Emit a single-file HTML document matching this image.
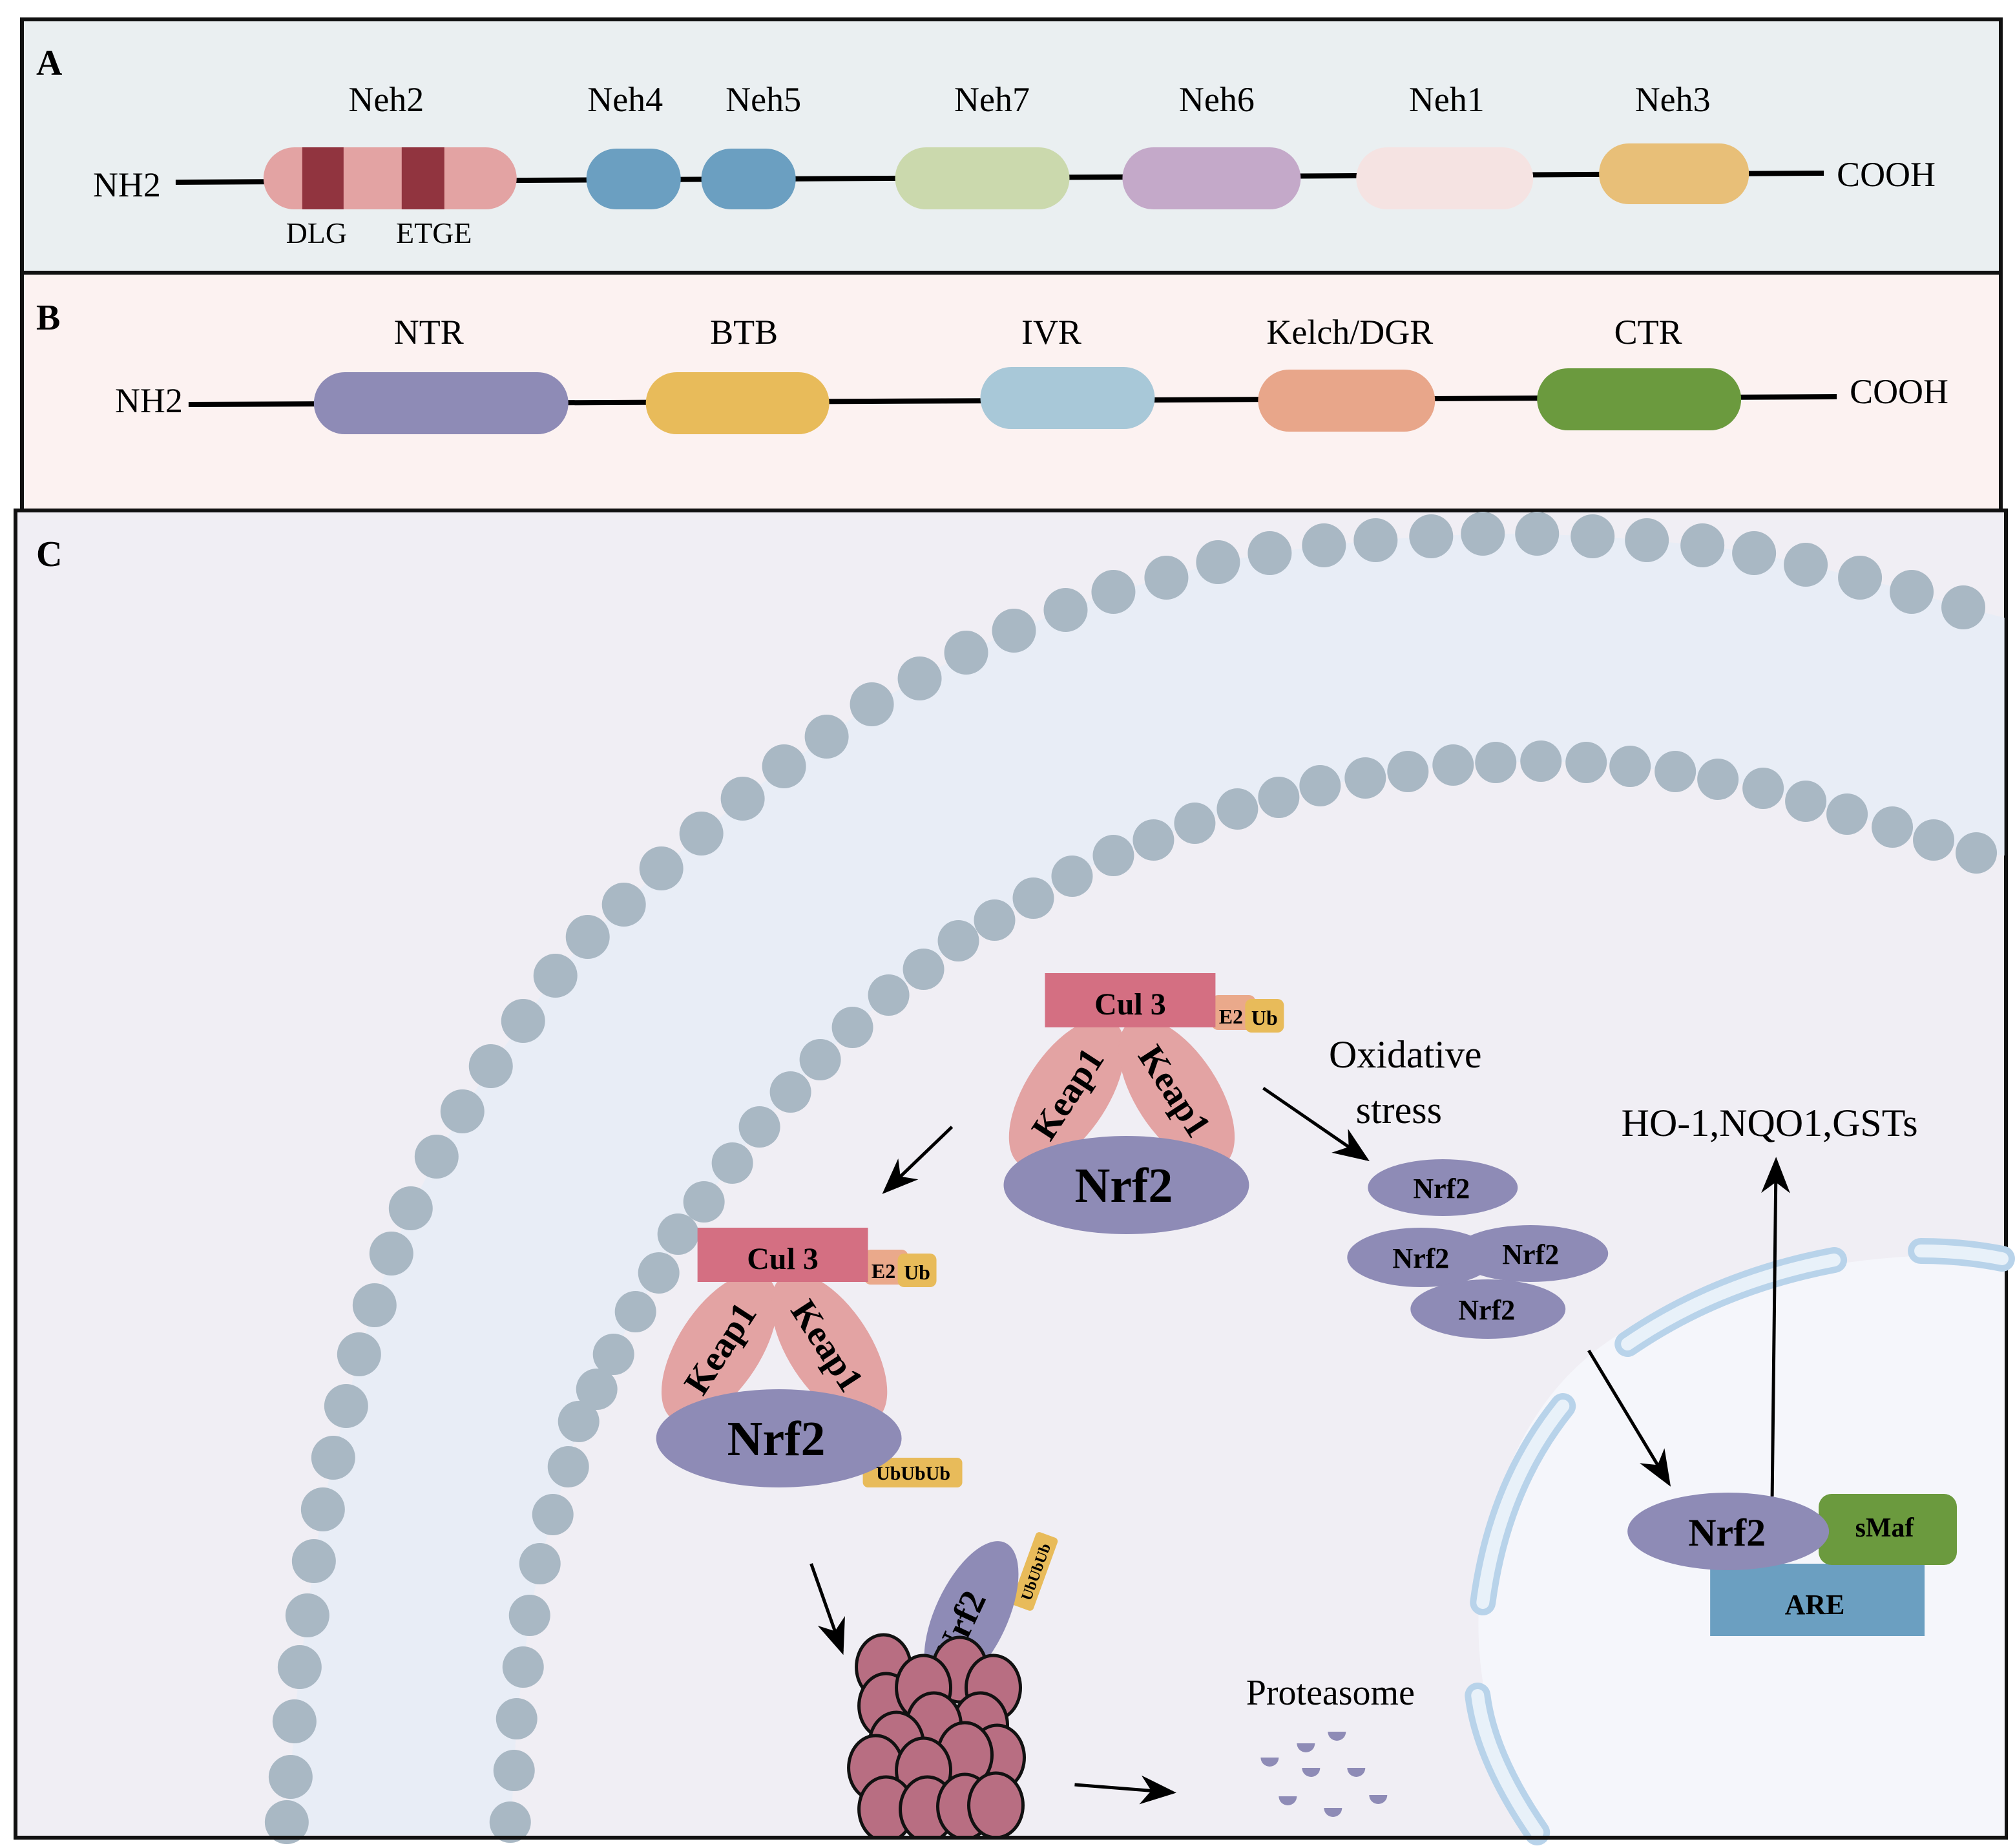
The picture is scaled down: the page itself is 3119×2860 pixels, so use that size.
<!DOCTYPE html>
<html><head><meta charset="utf-8"><style>
html,body{margin:0;padding:0;background:#fff;}
svg{display:block;}
text{font-family:"Liberation Serif",serif;}
</style></head><body>
<svg width="3119" height="2860" viewBox="0 0 1560 1430" preserveAspectRatio="none" xmlns="http://www.w3.org/2000/svg">
<defs>
<marker id="ah2" viewBox="0 0 10 10" refX="9" refY="5" markerWidth="28" markerHeight="28" orient="auto" markerUnits="userSpaceOnUse">
<path d="M0,1 L10,5 L0,9 L3,5 Z" fill="#000"/>
</marker>
</defs>
<rect width="1560" height="1430" fill="#fff"/>
<!-- Panel A -->
<rect x="17" y="15" width="1532" height="196" fill="#eaeff1" stroke="#111" stroke-width="3"/>
<text x="28" y="58" font-size="28" font-weight="bold">A</text>
<polyline points="136,141 1412,134" stroke="#000" stroke-width="4" fill="none"/>
<rect x="204" y="114" width="196" height="48" rx="24" fill="#e3a3a3"/>
<rect x="234" y="114" width="32" height="48" fill="#91343f"/>
<rect x="311" y="114" width="33" height="48" fill="#91343f"/>
<rect x="454" y="115" width="73" height="47" rx="23" fill="#6b9fc1"/>
<rect x="543" y="115" width="73" height="47" rx="23" fill="#6b9fc1"/>
<rect x="693" y="114" width="135" height="48" rx="24" fill="#cbd9ad"/>
<rect x="869" y="114" width="138" height="48" rx="24" fill="#c4a9c9"/>
<rect x="1050" y="114" width="137" height="48" rx="24" fill="#f5e3e2"/>
<rect x="1238" y="111" width="116" height="47" rx="23" fill="#e8bf78"/>
<g font-size="27" text-anchor="middle">
<text x="299" y="86">Neh2</text><text x="484" y="86">Neh4</text><text x="591" y="86">Neh5</text>
<text x="768" y="86">Neh7</text><text x="942" y="86">Neh6</text><text x="1120" y="86">Neh1</text><text x="1295" y="86">Neh3</text>
</g>
<text x="72" y="152" font-size="27">NH2</text>
<text x="1422" y="144" font-size="27">COOH</text>
<text x="245" y="188" font-size="23" text-anchor="middle">DLG</text>
<text x="336" y="188" font-size="23" text-anchor="middle">ETGE</text>
<!-- Panel B -->
<rect x="17" y="211" width="1532" height="184" fill="#fcf2f1" stroke="#111" stroke-width="3"/>
<text x="28" y="255" font-size="28" font-weight="bold">B</text>
<polyline points="146,313 1422,307" stroke="#000" stroke-width="4" fill="none"/>
<rect x="243" y="288" width="197" height="48" rx="24" fill="#8e8bb6"/>
<rect x="500" y="288" width="142" height="48" rx="24" fill="#e8bb5a"/>
<rect x="759" y="284" width="135" height="48" rx="24" fill="#a8c8d8"/>
<rect x="974" y="286" width="137" height="48" rx="24" fill="#e8a68a"/>
<rect x="1190" y="285" width="158" height="48" rx="24" fill="#6b9a3e"/>
<g font-size="27" text-anchor="middle">
<text x="332" y="266">NTR</text><text x="576" y="266">BTB</text><text x="814" y="266">IVR</text>
<text x="1045" y="266">Kelch/DGR</text><text x="1276" y="266">CTR</text>
</g>
<text x="89" y="319" font-size="27">NH2</text>
<text x="1432" y="312" font-size="27">COOH</text>
<!-- Panel C -->
<rect x="12" y="395" width="1541" height="1027" fill="#f0eef4" stroke="#111" stroke-width="3"/>
<text x="28" y="438" font-size="28" font-weight="bold">C</text>
<polygon fill="#e3ecf6" opacity="0.6" points="222,1420 225,1375 228,1332 232,1290 238,1250 243,1208 250,1168 258,1128 268,1088 278,1048 290,1010 303,970 318,935 338,895 358,860 380,825 405,790 430,755 455,725 483,700 512,672 543,645 575,618 607,593 640,570 675,545 712,525 748,505 785,488 825,472 862,458 903,447 943,435 983,428 1025,422 1065,418 1108,415 1148,413 1190,413 1233,415 1275,418 1318,422 1358,428 1398,437 1440,447 1480,458 1520,470 1552,478 1552,662 1530,660 1497,650 1465,640 1430,630 1398,620 1365,610 1330,603 1297,597 1262,593 1228,590 1193,589 1158,590 1125,592 1090,597 1057,602 1022,608 990,617 958,626 925,637 893,650 862,662 830,678 800,695 770,712 742,728 715,750 688,770 660,795 635,820 612,845 588,872 567,900 545,930 525,955 510,985 492,1015 475,1048 462,1075 448,1100 440,1135 428,1172 418,1210 410,1250 405,1290 400,1330 398,1370 395,1420"/>
<g fill="#a9b8c4">
<circle cx="222" cy="1410" r="17"/><circle cx="225" cy="1375" r="17"/><circle cx="228" cy="1332" r="17"/><circle cx="232" cy="1290" r="17"/><circle cx="238" cy="1250" r="17"/><circle cx="243" cy="1208" r="17"/><circle cx="250" cy="1168" r="17"/><circle cx="258" cy="1128" r="17"/><circle cx="268" cy="1088" r="17"/><circle cx="278" cy="1048" r="17"/><circle cx="290" cy="1010" r="17"/><circle cx="303" cy="970" r="17"/><circle cx="318" cy="935" r="17"/><circle cx="338" cy="895" r="17"/><circle cx="358" cy="860" r="17"/><circle cx="380" cy="825" r="17"/><circle cx="405" cy="790" r="17"/><circle cx="430" cy="755" r="17"/><circle cx="455" cy="725" r="17"/><circle cx="483" cy="700" r="17"/><circle cx="512" cy="672" r="17"/><circle cx="543" cy="645" r="17"/><circle cx="575" cy="618" r="17"/><circle cx="607" cy="593" r="17"/><circle cx="640" cy="570" r="17"/><circle cx="675" cy="545" r="17"/><circle cx="712" cy="525" r="17"/><circle cx="748" cy="505" r="17"/><circle cx="785" cy="488" r="17"/><circle cx="825" cy="472" r="17"/><circle cx="862" cy="458" r="17"/><circle cx="903" cy="447" r="17"/><circle cx="943" cy="435" r="17"/><circle cx="983" cy="428" r="17"/><circle cx="1025" cy="422" r="17"/><circle cx="1065" cy="418" r="17"/><circle cx="1108" cy="415" r="17"/><circle cx="1148" cy="413" r="17"/><circle cx="1190" cy="413" r="17"/><circle cx="1233" cy="415" r="17"/><circle cx="1275" cy="418" r="17"/><circle cx="1318" cy="422" r="17"/><circle cx="1358" cy="428" r="17"/><circle cx="1398" cy="437" r="17"/><circle cx="1440" cy="447" r="17"/><circle cx="1480" cy="458" r="17"/><circle cx="1520" cy="470" r="17"/>
<circle cx="395" cy="1410" r="16"/><circle cx="398" cy="1370" r="16"/><circle cx="400" cy="1330" r="16"/><circle cx="405" cy="1290" r="16"/><circle cx="410" cy="1250" r="16"/><circle cx="418" cy="1210" r="16"/><circle cx="428" cy="1172" r="16"/><circle cx="440" cy="1135" r="16"/><circle cx="448" cy="1100" r="16"/><circle cx="462" cy="1075" r="16"/><circle cx="475" cy="1048" r="16"/><circle cx="492" cy="1015" r="16"/><circle cx="510" cy="985" r="16"/><circle cx="525" cy="955" r="16"/><circle cx="545" cy="930" r="16"/><circle cx="567" cy="900" r="16"/><circle cx="588" cy="872" r="16"/><circle cx="612" cy="845" r="16"/><circle cx="635" cy="820" r="16"/><circle cx="660" cy="795" r="16"/><circle cx="688" cy="770" r="16"/><circle cx="715" cy="750" r="16"/><circle cx="742" cy="728" r="16"/><circle cx="770" cy="712" r="16"/><circle cx="800" cy="695" r="16"/><circle cx="830" cy="678" r="16"/><circle cx="862" cy="662" r="16"/><circle cx="893" cy="650" r="16"/><circle cx="925" cy="637" r="16"/><circle cx="958" cy="626" r="16"/><circle cx="990" cy="617" r="16"/><circle cx="1022" cy="608" r="16"/><circle cx="1057" cy="602" r="16"/><circle cx="1090" cy="597" r="16"/><circle cx="1125" cy="592" r="16"/><circle cx="1158" cy="590" r="16"/><circle cx="1193" cy="589" r="16"/><circle cx="1228" cy="590" r="16"/><circle cx="1262" cy="593" r="16"/><circle cx="1297" cy="597" r="16"/><circle cx="1330" cy="603" r="16"/><circle cx="1365" cy="610" r="16"/><circle cx="1398" cy="620" r="16"/><circle cx="1430" cy="630" r="16"/><circle cx="1465" cy="640" r="16"/><circle cx="1497" cy="650" r="16"/><circle cx="1530" cy="660" r="16"/>
</g>
<!-- nucleus -->
<path d="M1190,1421 Q1140,1330 1145,1240 Q1160,1060 1300,1010 Q1420,965 1552,972 L1552,1421 Z" fill="#f5f6fb"/>
<g fill="none" stroke-linecap="round">
<g stroke="#b8d3ea" stroke-width="20">
<path d="M1190,1418 Q1150,1360 1144,1312"/>
<path d="M1148,1240 Q1160,1150 1210,1088"/>
<path d="M1260,1040 Q1330,992 1420,975"/>
<path d="M1487,968 Q1520,968 1550,974"/>
</g>
<g stroke="#e8f1f9" stroke-width="10">
<path d="M1190,1418 Q1150,1360 1144,1312"/>
<path d="M1148,1240 Q1160,1150 1210,1088"/>
<path d="M1260,1040 Q1330,992 1420,975"/>
<path d="M1487,968 Q1520,968 1550,974"/>
</g>
</g>
<!-- complex 1 -->
<ellipse cx="826" cy="846" rx="32" ry="66" transform="rotate(33 826 846)" fill="#e3a3a3"/>
<ellipse cx="911" cy="846" rx="32" ry="66" transform="rotate(-33 911 846)" fill="#e3a3a3"/>
<rect x="938" y="770" width="34" height="27" rx="5" fill="#eaa98b"/>
<rect x="964" y="773" width="30" height="26" rx="5" fill="#e8bb5a"/>
<rect x="809" y="753" width="132" height="42" fill="#d46f82"/>
<text x="875" y="785" font-size="24" font-weight="bold" text-anchor="middle">Cul 3</text>
<text x="953" y="792" font-size="16" font-weight="bold" text-anchor="middle">E2</text>
<text x="979" y="793" font-size="16" font-weight="bold" text-anchor="middle">Ub</text>
<text font-size="28" font-weight="bold" text-anchor="middle" transform="translate(826,846) rotate(-57)" dy="10">Keap1</text>
<text font-size="28" font-weight="bold" text-anchor="middle" transform="translate(910,844) rotate(57)" dy="10">Keap1</text>
<ellipse cx="872" cy="917" rx="95" ry="38" fill="#8e8bb6"/>
<text x="870" y="930" font-size="38" font-weight="bold" text-anchor="middle">Nrf2</text>
<!-- complex 2 -->
<ellipse cx="557" cy="1043" rx="32" ry="66" transform="rotate(33 557 1043)" fill="#e3a3a3"/>
<ellipse cx="642" cy="1043" rx="32" ry="66" transform="rotate(-33 642 1043)" fill="#e3a3a3"/>
<rect x="669" y="967" width="34" height="27" rx="5" fill="#eaa98b"/>
<rect x="695" y="970" width="30" height="26" rx="5" fill="#e8bb5a"/>
<rect x="540" y="950" width="132" height="42" fill="#d46f82"/>
<text x="606" y="982" font-size="24" font-weight="bold" text-anchor="middle">Cul 3</text>
<text x="684" y="989" font-size="16" font-weight="bold" text-anchor="middle">E2</text>
<text x="710" y="990" font-size="16" font-weight="bold" text-anchor="middle">Ub</text>
<text font-size="28" font-weight="bold" text-anchor="middle" transform="translate(557,1043) rotate(-57)" dy="10">Keap1</text>
<text font-size="28" font-weight="bold" text-anchor="middle" transform="translate(641,1041) rotate(57)" dy="10">Keap1</text>
<rect x="668" y="1128" width="77" height="23" rx="4" fill="#e8bb5a"/>
<ellipse cx="603" cy="1113" rx="95" ry="38" fill="#8e8bb6"/>
<text x="601" y="1126" font-size="38" font-weight="bold" text-anchor="middle">Nrf2</text>
<text x="707" y="1145" font-size="15" font-weight="bold" text-anchor="middle">UbUbUb</text>
<!-- arrows -->
<g stroke="#000" stroke-width="2.5" fill="none" marker-end="url(#ah2)">
<line x1="737" y1="872" x2="685" y2="922"/>
<line x1="978" y1="842" x2="1058" y2="897"/>
<line x1="628" y1="1210" x2="652" y2="1278"/>
<line x1="832" y1="1381" x2="908" y2="1387"/>
<line x1="1230" y1="1045" x2="1292" y2="1148"/>
<line x1="1372" y1="1158" x2="1375" y2="898"/>
</g>
<text x="1088" y="826" font-size="30" text-anchor="middle">Oxidative</text>
<text x="1083" y="869" font-size="30" text-anchor="middle">stress</text>
<text x="1370" y="879" font-size="30" text-anchor="middle">HO-1,NQO1,GSTs</text>
<g fill="#8e8bb6">
<ellipse cx="1117" cy="919" rx="58" ry="22"/>
<ellipse cx="1185" cy="970" rx="60" ry="22"/>
<ellipse cx="1100" cy="973" rx="57" ry="23"/>
<ellipse cx="1152" cy="1013" rx="60" ry="23"/>
</g>
<g font-size="22" font-weight="bold" text-anchor="middle">
<text x="1116" y="927">Nrf2</text><text x="1185" y="978">Nrf2</text><text x="1100" y="981">Nrf2</text><text x="1151" y="1021">Nrf2</text>
</g>
<rect x="1324" y="1210" width="166" height="56" fill="#6b9fc1"/>
<rect x="1408" y="1156" width="107" height="55" rx="10" fill="#6b9a3e"/>
<ellipse cx="1338" cy="1185" rx="78" ry="30" fill="#8e8bb6"/>
<text x="1337" y="1196" font-size="30" font-weight="bold" text-anchor="middle">Nrf2</text>
<text x="1459" y="1189" font-size="21" font-weight="bold" text-anchor="middle">sMaf</text>
<text x="1405" y="1249" font-size="22" font-weight="bold" text-anchor="middle">ARE</text>
<!-- proteasome -->
<g transform="rotate(-70 801 1216)"><rect x="771" y="1207" width="60" height="18" rx="3" fill="#e8bb5a"/><text x="801" y="1221" font-size="12" font-weight="bold" text-anchor="middle">UbUbUb</text></g>
<ellipse cx="752" cy="1250" rx="28" ry="62" transform="rotate(25 752 1250)" fill="#8e8bb6"/>
<text font-size="28" font-weight="bold" text-anchor="middle" transform="translate(752,1262) rotate(-65)">Nrf2</text>
<g fill="#b86e82" stroke="#111" stroke-width="2.5">
<ellipse cx="684" cy="1290" rx="21" ry="25"/>
<ellipse cx="743" cy="1292" rx="21" ry="25"/>
<ellipse cx="769" cy="1306" rx="21" ry="25"/>
<ellipse cx="686" cy="1320" rx="21" ry="25"/>
<ellipse cx="715" cy="1306" rx="21" ry="25"/>
<ellipse cx="759" cy="1335" rx="21" ry="25"/>
<ellipse cx="723" cy="1335" rx="21" ry="25"/>
<ellipse cx="694" cy="1350" rx="21" ry="25"/>
<ellipse cx="772" cy="1360" rx="21" ry="25"/>
<ellipse cx="747" cy="1358" rx="21" ry="25"/>
<ellipse cx="678" cy="1368" rx="21" ry="25"/>
<ellipse cx="715" cy="1370" rx="21" ry="25"/>
<ellipse cx="686" cy="1400" rx="21" ry="25"/>
<ellipse cx="718" cy="1400" rx="21" ry="25"/>
<ellipse cx="747" cy="1398" rx="21" ry="25"/>
<ellipse cx="771" cy="1397" rx="21" ry="25"/>
</g>
<rect x="600" y="1421" width="300" height="9" fill="#fff"/>
<line x1="12" y1="1422" x2="1553" y2="1422" stroke="#111" stroke-width="3"/>
<text x="1030" y="1319" font-size="28" text-anchor="middle">Proteasome</text>
<g fill="#8e8bb6">
<path d="M1028,1340 a7,7 0 0 0 14,0 Z"/>
<path d="M1004,1349 a7,7 0 0 0 14,0 Z"/>
<path d="M976,1360 a7,7 0 0 0 14,0 Z"/>
<path d="M1008,1368 a7,7 0 0 0 14,0 Z"/>
<path d="M1043,1368 a7,7 0 0 0 14,0 Z"/>
<path d="M990,1390 a7,7 0 0 0 14,0 Z"/>
<path d="M1060,1389 a7,7 0 0 0 14,0 Z"/>
<path d="M1025,1399 a7,7 0 0 0 14,0 Z"/>
</g>
</svg>
</body></html>
